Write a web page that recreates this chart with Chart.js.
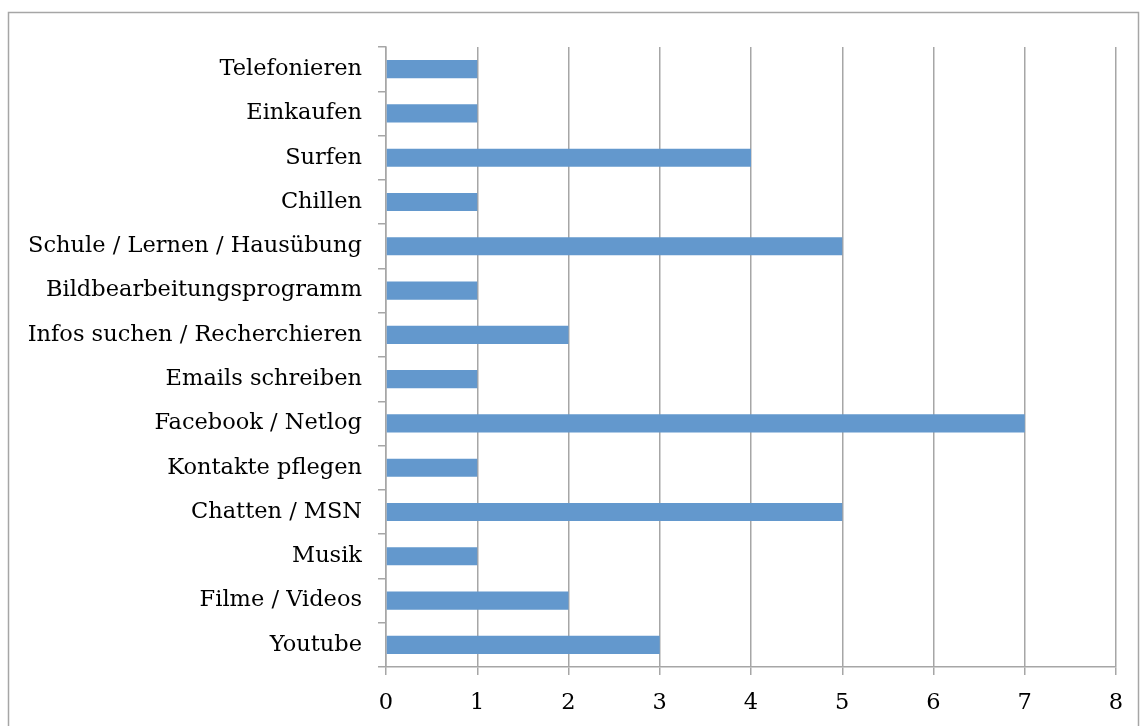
<!DOCTYPE html>
<html>
<head>
<meta charset="utf-8">
<script src="https://cdn.jsdelivr.net/npm/chart.js@4"></script>
<style>
  html, body { margin: 0; padding: 0; background: #fff; }
  #wrap { position: relative; width: 1146px; height: 726px; }
</style>
</head>
<body>
<div id="wrap"><canvas id="chart"></canvas></div>
<script>
// --- Data ---
const categories = [
    'Telefonieren', 'Einkaufen', 'Surfen', 'Chillen',
    'Schule / Lernen / Hausübung', 'Bildbearbeitungsprogramm',
    'Infos suchen / Recherchieren', 'Emails schreiben', 'Facebook / Netlog',
    'Kontakte pflegen', 'Chatten / MSN', 'Musik', 'Filme / Videos', 'Youtube'
];
const counts = [1, 1, 4, 1, 5, 1, 2, 1, 7, 1, 5, 1, 2, 3];
const xMin = 0;
const xMax = 8;

const gridGray = '#a6a6a6';
const fontFamily = '"DejaVu Serif", "Liberation Serif", serif';

// outer frame like the office chart border
const framePlugin = {
    id: 'frame',
    afterDraw(chart) {
        const ctx = chart.ctx;
        ctx.save();
        ctx.strokeStyle = gridGray;
        ctx.lineWidth = 1.5;
        ctx.strokeRect(8.5, 12.5, 1130, 740);
        ctx.restore();
    }
};

const ctx = document.getElementById('chart');
new Chart(ctx, {
    type: 'bar',
    data: {
        labels: categories,
        datasets: [{
            data: counts,
            backgroundColor: '#6398cd',
            borderWidth: 0,
            categoryPercentage: 1,
            barPercentage: 0.41
        }]
    },
    options: {
        indexAxis: 'y',
        responsive: true,
        maintainAspectRatio: false,
        animation: false,
        layout: { padding: { top: 47, right: 30, left: 0, bottom: 0 } },
        plugins: {
            legend: { display: false },
            tooltip: { enabled: false }
        },
        scales: {
            x: {
                min: xMin,
                max: xMax,
                ticks: {
                    stepSize: 1,
                    color: '#000',
                    padding: 15,
                    font: { family: fontFamily, size: 22.5 }
                },
                grid: {
                    color: gridGray,
                    lineWidth: 1.5,
                    tickLength: 8,
                    tickColor: gridGray
                },
                border: { color: gridGray, width: 1.5 },
                afterFit(scale) { scale.height = 59; }
            },
            y: {
                ticks: {
                    color: '#000',
                    padding: 16,
                    font: { family: fontFamily, size: 22.5 }
                },
                grid: {
                    drawOnChartArea: false,
                    tickLength: 8,
                    tickColor: gridGray,
                    lineWidth: 1.5
                },
                border: { color: gridGray, width: 1.5 },
                afterFit(scale) { scale.width = 386; }
            }
        }
    },
    plugins: [framePlugin]
});
</script>
</body>
</html>
